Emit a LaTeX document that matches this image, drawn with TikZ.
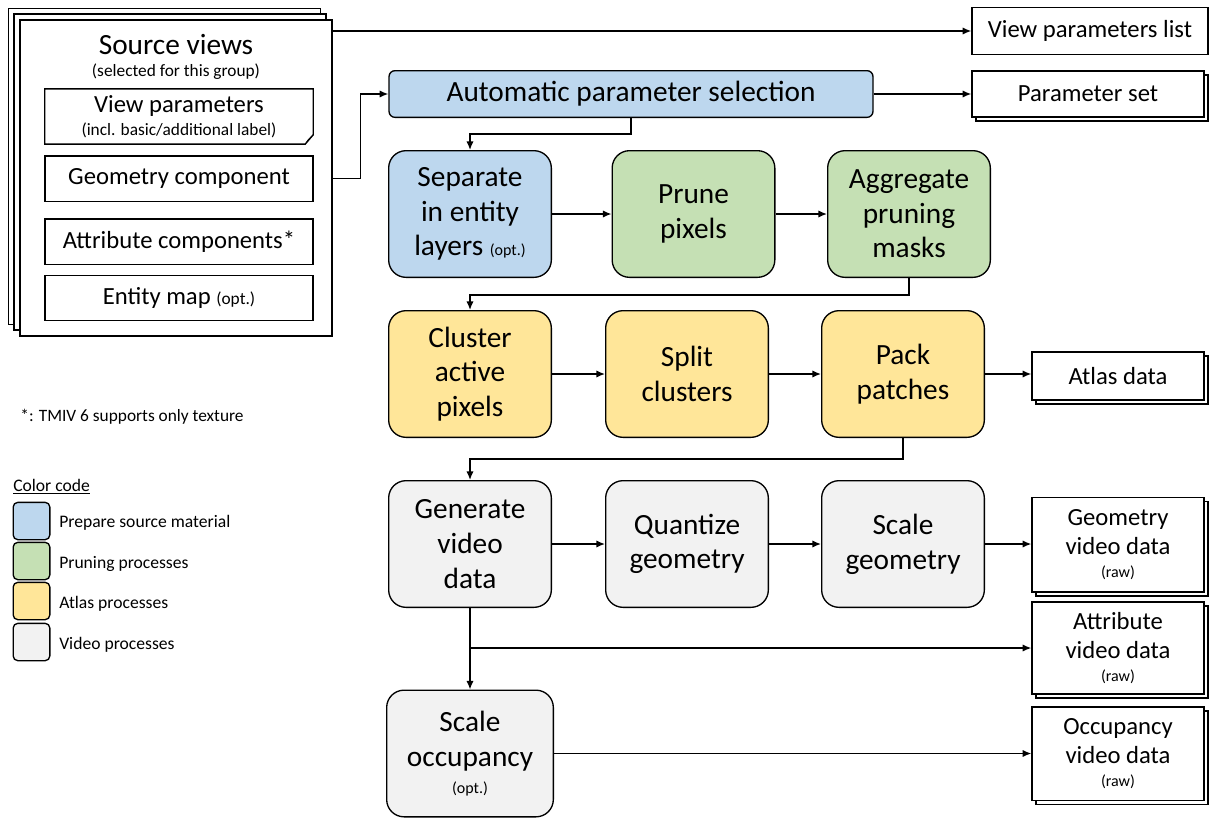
\documentclass[tikz,border=0pt]{standalone}
\usepackage{fontspec}
\setmainfont{Carlito}
\usetikzlibrary{arrows.meta,shadows}

\definecolor{prepblue}{HTML}{BDD7EE}
\definecolor{prungreen}{HTML}{C5E0B4}
\definecolor{atlasyellow}{HTML}{FFE699}
\definecolor{videogray}{HTML}{F2F2F2}

\newcommand{\bigtxt}{\fontsize{22}{26}\selectfont}
\newcommand{\midtxt}{\fontsize{18.5}{22}\selectfont}
\newcommand{\smtxt}{\fontsize{12}{14}\selectfont}
\newcommand{\legtxt}{\fontsize{13.2}{15}\selectfont}

\tikzset{
	proc/.style={draw, line width=1pt, rounded corners=13pt, minimum width=122pt, minimum height=95pt, align=center, font=\bigtxt, inner sep=2pt},
	item/.style={draw, line width=1pt, fill=white, minimum width=201pt, minimum height=34pt, align=center, font=\midtxt},
	outbox/.style={draw, line width=1pt, fill=white, align=center, font=\midtxt, inner sep=2pt,
		copy shadow={shadow xshift=3pt, shadow yshift=-3pt, fill=white, draw=black, line width=1pt}},
	legbox/.style={draw, line width=1pt, rounded corners=3.5pt, minimum width=27.5pt, minimum height=28pt},
	legtext/.style={anchor=west, font=\legtxt, inner sep=0pt},
	flow/.style={->, line width=1.1pt},
}

\begin{document}
\begin{tikzpicture}[x=0.75pt, y=-0.75pt, >={Latex[length=6.5pt,width=5.5pt]}]
	\useasboundingbox (0,0) rectangle (1210,818);

	% source views stack
	\node (src) [draw, line width=1pt, fill=white, minimum width=234pt, minimum height=237pt,
		copy shadow={shadow xshift=-8.5pt, shadow yshift=8.5pt, fill=white, draw=black, line width=1pt},
		copy shadow={shadow xshift=-4.5pt, shadow yshift=4.5pt, fill=white, draw=black, line width=1pt}] at (176,178) {};
	\node (srctitle) [font=\bigtxt] at (176,45) {Source views};
	\node (srcsub) [font=\fontsize{13}{15}\selectfont] at (176,72) {(selected for this group)};
	\node (vp) [minimum width=201pt, minimum height=41pt, align=center, inner sep=0pt] at (179,116.5)
		{\midtxt View parameters\\[4pt]{\fontsize{13}{15}\selectfont (incl. basic/additional label)}};
	\draw[line width=1pt] (vp.north west) -- (vp.north east) -- ([yshift=7pt]vp.south east)
		-- ([xshift=-6pt]vp.south east) -- (vp.south west) -- cycle;
	\draw[line width=0.6pt] ([yshift=7pt]vp.south east) -- ([xshift=-4pt,yshift=3pt]vp.south east) -- ([xshift=-6pt]vp.south east);
	\node (geo) [item] at (179,178.5) {Geometry component};
	\node (attr) [item] at (179,241.5) {Attribute components*};
	\node (ent) [item] at (179,298) {Entity map {\fontsize{13}{15}\selectfont (opt.)}};

	% outputs
	\node (vpl) [draw, line width=1pt, fill=white, font=\midtxt, minimum width=177pt, minimum height=35pt] at (1090,31) {View parameters list};
	\node (ps) [outbox, minimum width=174pt, minimum height=34.5pt] at (1088,94) {Parameter set};
	\node (atlas) [outbox, minimum width=129pt, minimum height=36pt] at (1118,376) {Atlas data};
	\node (gvd) [outbox, minimum width=129pt, minimum height=71pt] at (1118,544.5) {Geometry\\video data\\[-5pt]{\smtxt (raw)}};
	\node (avd) [outbox, minimum width=129pt, minimum height=69pt] at (1118,648) {Attribute\\video data\\[-5pt]{\smtxt (raw)}};
	\node (ovd) [outbox, minimum width=129pt, minimum height=70pt] at (1118,753.5) {Occupancy\\video data\\[-5pt]{\smtxt (raw)}};

	% processes
	\node (aps) [draw, line width=1pt, fill=prepblue, rounded corners=4.5pt, minimum width=363pt, minimum height=35pt, font=\bigtxt] at (631,94) {Automatic parameter selection};
	\node (sep) [proc, fill=prepblue] at (470,214) {Separate\\in entity\\layers {\smtxt (opt.)}};
	\node (prune) [proc, fill=prungreen] at (693.5,214) {Prune\\pixels};
	\node (agg) [proc, fill=prungreen] at (909,214) {Aggregate\\pruning\\masks};
	\node (clu) [proc, fill=atlasyellow] at (470,374) {Cluster\\active\\pixels};
	\node (split) [proc, fill=atlasyellow] at (687,374) {Split\\clusters};
	\node (pack) [proc, fill=atlasyellow] at (903,374) {Pack\\patches};
	\node (gen) [proc, fill=videogray] at (470,544) {Generate\\video\\data};
	\node (quant) [proc, fill=videogray] at (687,544) {Quantize\\geometry};
	\node (scl) [proc, fill=videogray] at (903,544) {Scale\\geometry};
	\node (occ) [proc, fill=videogray, minimum width=125pt] at (470,753.5) {Scale\\occupancy\\[-6pt]{\smtxt (opt.)}};

	% connectors
	\draw[flow] (src.east |- vpl.west) -- (vpl.west);
	\draw[flow] (geo.east -| src.east) -- ++(28,0) |- (aps.west);
	\draw[flow] (aps.east) -- (ps.west);
	\draw[flow] (aps.south) -- ++(0,16) -| (sep.north);
	\draw[flow] (sep) -- (prune);
	\draw[flow] (prune) -- (agg);
	\draw[flow] (agg.south) -- ++(0,17) -| (clu.north);
	\draw[flow] (clu) -- (split);
	\draw[flow] (split) -- (pack);
	\draw[flow] (pack.east) -- (pack.east -| atlas.west);
	\draw[flow] (pack.south) -- ++(0,21) -| (gen.north);
	\draw[flow] (gen) -- (quant);
	\draw[flow] (quant) -- (scl);
	\draw[flow] (scl.east) -- (scl.east -| gvd.west);
	\draw[flow] (gen.south) -- (occ.north);
	\draw[flow] (gen.south |- avd.west) -- (avd.west);
	\draw[flow] (occ.east) -- (occ.east -| ovd.west);

	% note and legend
	\node (note) [font=\fontsize{13}{15}\selectfont] at (132,417) {*: TMIV 6 supports only texture};
	\node (legtitle) [legtext] at (13,487) {\underline{Color code}};
	\node (lg1) [legbox, fill=prepblue] at (31.5,521) {};
	\node (lg2) [legbox, fill=prungreen] at (31.5,561) {};
	\node (lg3) [legbox, fill=atlasyellow] at (31.5,601) {};
	\node (lg4) [legbox, fill=videogray] at (31.5,642) {};
	\node (lt1) [legtext] at (59,523) {Prepare source material};
	\node (lt2) [legtext] at (59,564) {Pruning processes};
	\node (lt3) [legtext] at (59,604) {Atlas processes};
	\node (lt4) [legtext] at (59,645) {Video processes};
\end{tikzpicture}
\end{document}
